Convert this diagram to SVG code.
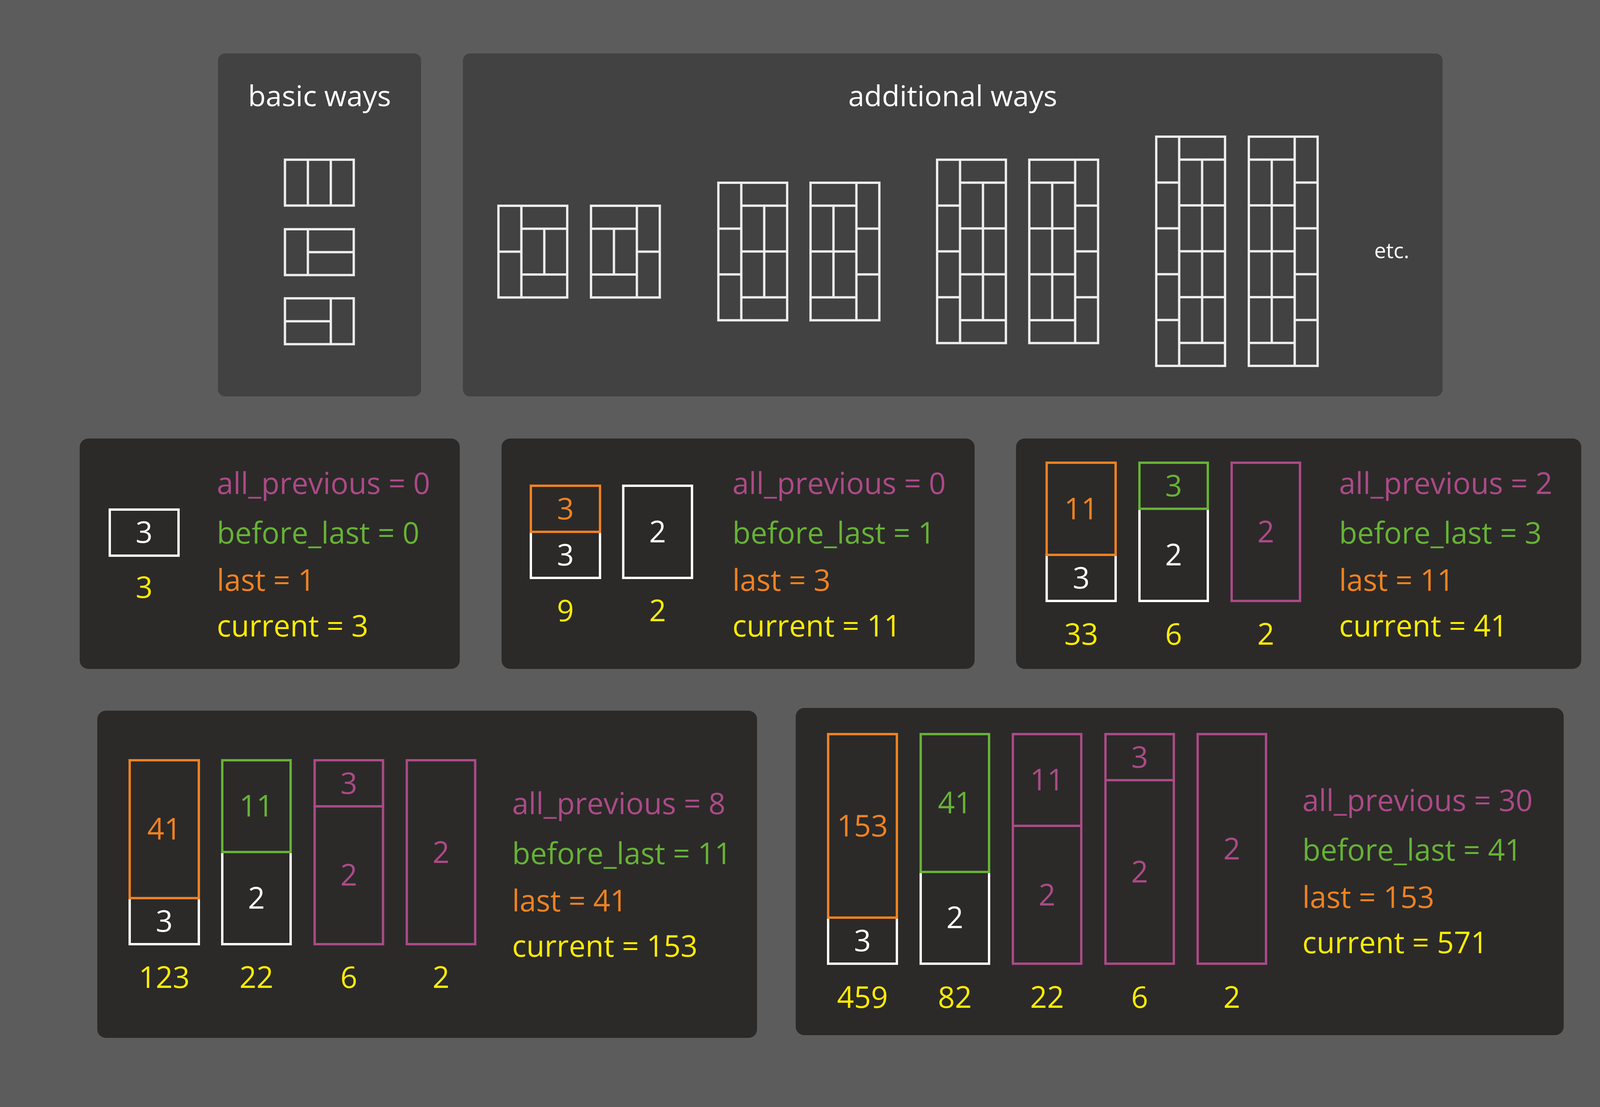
<svg xmlns="http://www.w3.org/2000/svg" width="4252" height="2835" viewBox="0 0 4252 2835">
<style>
text{font-family:"Open Sans","Noto Sans","Liberation Sans",sans-serif;}
.title{fill:#ffffff;font-size:74px;text-anchor:middle;}
.etc{fill:#ffffff;font-size:54px;}
.top{fill:#424242;}
.dark{fill:#2b2a29;}
.tile{fill:none;stroke:#ececec;stroke-width:6;}
.n{font-size:76px;text-anchor:middle;}
.l{font-size:76px;}
.bw{fill:none;stroke:#ffffff;stroke-width:6;}
.bo{fill:none;stroke:#f08221;stroke-width:6;}
.bg{fill:none;stroke:#67b236;stroke-width:6;}
.bm{fill:none;stroke:#ab4a86;stroke-width:6;}
.cw{fill:#ffffff;}
.co{fill:#f08221;}
.cg{fill:#67b236;}
.cm{fill:#ab4a86;}
.cy{fill:#ffec00;}
</style>
<rect x="0" y="0" width="4252" height="2835" fill="#5c5c5c"/>

<g id="basic-ways">
<rect class="top" x="558" y="137" width="520" height="878" rx="18"/>
<text class="title" x="818" y="272">basic ways</text>
<g transform="translate(729.5,409)">
<rect class="tile" x="0" y="0" width="176.1" height="117.4"/>
<path class="tile" d="M58.7 0V117.4M117.4 0V117.4"/>
</g>
<g transform="translate(729.5,587)">
<rect class="tile" x="0" y="0" width="176.1" height="117.4"/>
<path class="tile" d="M58.7 0V117.4M58.7 58.7H176.1"/>
</g>
<g transform="translate(729.5,764)">
<rect class="tile" x="0" y="0" width="176.1" height="117.4"/>
<path class="tile" d="M117.4 0V117.4M0 58.7H117.4"/>
</g>
</g>

<g id="additional-ways">
<rect class="top" x="1185" y="137" width="2508" height="878" rx="18"/>
<text class="title" x="2439" y="272">additional ways</text>
<g transform="translate(1276,527)">
<rect class="tile" x="0" y="0" width="176.1" height="234.8"/>
<path class="tile" d="M58.7 0V234.8M0 117.4H58.7M58.7 58.7H176.1M58.7 176.1H176.1M117.4 58.7V176.1"/>
</g>
<g transform="translate(1513,527)">
<rect class="tile" x="0" y="0" width="176.1" height="234.8"/>
<path class="tile" d="M117.4 0V234.8M117.4 117.4H176.1M0 58.7H117.4M0 176.1H117.4M58.7 58.7V176.1"/>
</g>
<g transform="translate(1839,468)">
<rect class="tile" x="0" y="0" width="176.1" height="352.2"/>
<path class="tile" d="M58.7 0V352.2M0 117.4H58.7M0 234.8H58.7M58.7 58.7H176.1M58.7 176.1H176.1M58.7 293.5H176.1M117.4 58.7V293.5"/>
</g>
<g transform="translate(2075,468)">
<rect class="tile" x="0" y="0" width="176.1" height="352.2"/>
<path class="tile" d="M117.4 0V352.2M117.4 117.4H176.1M117.4 234.8H176.1M0 58.7H117.4M0 176.1H117.4M0 293.5H117.4M58.7 58.7V293.5"/>
</g>
<g transform="translate(2399,409)">
<rect class="tile" x="0" y="0" width="176.1" height="469.6"/>
<path class="tile" d="M58.7 0V469.6M0 117.4H58.7M0 234.8H58.7M0 352.2H58.7M58.7 58.7H176.1M58.7 176.1H176.1M58.7 293.5H176.1M58.7 410.9H176.1M117.4 58.7V410.9"/>
</g>
<g transform="translate(2635,409)">
<rect class="tile" x="0" y="0" width="176.1" height="469.6"/>
<path class="tile" d="M117.4 0V469.6M117.4 117.4H176.1M117.4 234.8H176.1M117.4 352.2H176.1M0 58.7H117.4M0 176.1H117.4M0 293.5H117.4M0 410.9H117.4M58.7 58.7V410.9"/>
</g>
<g transform="translate(2960,350)">
<rect class="tile" x="0" y="0" width="176.1" height="587"/>
<path class="tile" d="M58.7 0V587M0 117.4H58.7M0 234.8H58.7M0 352.2H58.7M0 469.6H58.7M58.7 58.7H176.1M58.7 176.1H176.1M58.7 293.5H176.1M58.7 410.9H176.1M58.7 528.3H176.1M117.4 58.7V528.3"/>
</g>
<g transform="translate(3197,350)">
<rect class="tile" x="0" y="0" width="176.1" height="587"/>
<path class="tile" d="M117.4 0V587M117.4 117.4H176.1M117.4 234.8H176.1M117.4 352.2H176.1M117.4 469.6H176.1M0 58.7H117.4M0 176.1H117.4M0 293.5H117.4M0 410.9H117.4M0 528.3H117.4M58.7 58.7V528.3"/>
</g>
<text class="etc" x="3518" y="661">etc.</text>
</g>

<g id="step-1">
<rect class="dark" x="204" y="1123" width="973" height="590" rx="22"/>
<rect class="bw" x="281" y="1305" width="176" height="118"/>
<text class="n cw" x="369" y="1390">3</text>
<text class="n cy" x="369" y="1531">3</text>
<text class="l cm" x="555" y="1265">all_previous = 0</text>
<text class="l cg" x="555" y="1392">before_last = 0</text>
<text class="l co" x="555" y="1513">last = 1</text>
<text class="l cy" x="555" y="1630">current = 3</text>
</g>

<g id="step-2">
<rect class="dark" x="1284" y="1123" width="1211" height="590" rx="22"/>
<rect class="bw" x="1359" y="1362" width="177" height="118"/>
<rect class="bo" x="1359" y="1244" width="177" height="118"/>
<rect class="bw" x="1595.5" y="1244" width="176" height="236"/>
<text class="n co" x="1447.5" y="1330">3</text>
<text class="n cw" x="1447.5" y="1448">3</text>
<text class="n cw" x="1683.5" y="1389">2</text>
<text class="n cy" x="1447.5" y="1591">9</text>
<text class="n cy" x="1683.5" y="1591">2</text>
<text class="l cm" x="1875" y="1265">all_previous = 0</text>
<text class="l cg" x="1875" y="1392">before_last = 1</text>
<text class="l co" x="1875" y="1513">last = 3</text>
<text class="l cy" x="1875" y="1630">current = 11</text>
</g>

<g id="step-3">
<rect class="dark" x="2601" y="1123" width="1447" height="590" rx="22"/>
<rect class="bw" x="2679.5" y="1421" width="176.5" height="118"/>
<rect class="bo" x="2679.5" y="1185" width="176.5" height="236"/>
<rect class="bw" x="2917" y="1303" width="175" height="236"/>
<rect class="bg" x="2917" y="1185" width="175" height="118"/>
<rect class="bm" x="3153" y="1185" width="175" height="354"/>
<text class="n co" x="2768" y="1330">11</text>
<text class="n cw" x="2768" y="1507">3</text>
<text class="n cg" x="3004.5" y="1271">3</text>
<text class="n cw" x="3004.5" y="1448">2</text>
<text class="n cm" x="3240.5" y="1389">2</text>
<text class="n cy" x="2768" y="1651">33</text>
<text class="n cy" x="3004.5" y="1651">6</text>
<text class="n cy" x="3240.5" y="1651">2</text>
<text class="l cm" x="3428" y="1265">all_previous = 2</text>
<text class="l cg" x="3428" y="1392">before_last = 3</text>
<text class="l co" x="3428" y="1513">last = 11</text>
<text class="l cy" x="3428" y="1630">current = 41</text>
</g>

<g id="step-4">
<rect class="dark" x="249" y="1820" width="1689" height="838" rx="22"/>
<rect class="bw" x="332" y="2300" width="177" height="118"/>
<rect class="bo" x="332" y="1947" width="177" height="353"/>
<rect class="bw" x="569" y="2182" width="175" height="236"/>
<rect class="bg" x="569" y="1947" width="175" height="235"/>
<rect class="bm" x="805.5" y="2065" width="175" height="353"/>
<rect class="bm" x="805.5" y="1947" width="175" height="118"/>
<rect class="bm" x="1041.5" y="1947" width="175" height="471"/>
<text class="n co" x="420.5" y="2150">41</text>
<text class="n cw" x="420.5" y="2386">3</text>
<text class="n cg" x="656.5" y="2091">11</text>
<text class="n cw" x="656.5" y="2327">2</text>
<text class="n cm" x="893" y="2033">3</text>
<text class="n cm" x="893" y="2268">2</text>
<text class="n cm" x="1129" y="2210">2</text>
<text class="n cy" x="420.5" y="2530">123</text>
<text class="n cy" x="656.5" y="2530">22</text>
<text class="n cy" x="893" y="2530">6</text>
<text class="n cy" x="1129" y="2530">2</text>
<text class="l cm" x="1311" y="2085">all_previous = 8</text>
<text class="l cg" x="1311" y="2213">before_last = 11</text>
<text class="l co" x="1311" y="2334">last = 41</text>
<text class="l cy" x="1311" y="2450">current = 153</text>
</g>

<g id="step-5">
<rect class="dark" x="2037" y="1813" width="1966" height="838" rx="22"/>
<rect class="bw" x="2120" y="2350" width="176" height="118"/>
<rect class="bo" x="2120" y="1880" width="176" height="470"/>
<rect class="bw" x="2357" y="2233" width="175" height="235"/>
<rect class="bg" x="2357" y="1880" width="175" height="353"/>
<rect class="bm" x="2593" y="2115" width="175" height="353"/>
<rect class="bm" x="2593" y="1880" width="175" height="235"/>
<rect class="bm" x="2830" y="1998" width="175" height="470"/>
<rect class="bm" x="2830" y="1880" width="175" height="118"/>
<rect class="bm" x="3066" y="1880" width="175" height="588"/>
<text class="n co" x="2208" y="2142">153</text>
<text class="n cw" x="2208" y="2436">3</text>
<text class="n cg" x="2444.5" y="2083">41</text>
<text class="n cw" x="2444.5" y="2377">2</text>
<text class="n cm" x="2680.5" y="2024">11</text>
<text class="n cm" x="2680.5" y="2319">2</text>
<text class="n cm" x="2917.5" y="1966">3</text>
<text class="n cm" x="2917.5" y="2260">2</text>
<text class="n cm" x="3153.5" y="2201">2</text>
<text class="n cy" x="2208" y="2581">459</text>
<text class="n cy" x="2444.5" y="2581">82</text>
<text class="n cy" x="2680.5" y="2581">22</text>
<text class="n cy" x="2917.5" y="2581">6</text>
<text class="n cy" x="3153.5" y="2581">2</text>
<text class="l cm" x="3334" y="2077">all_previous = 30</text>
<text class="l cg" x="3334" y="2204">before_last = 41</text>
<text class="l co" x="3334" y="2325">last = 153</text>
<text class="l cy" x="3334" y="2441">current = 571</text>
</g>

<g id="connectors"></g>
</svg>
